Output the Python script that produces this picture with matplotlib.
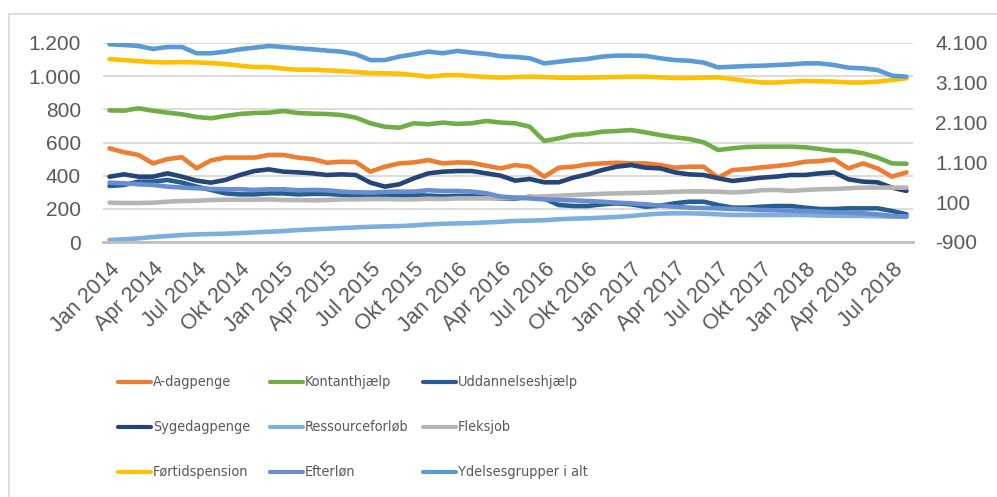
import matplotlib
matplotlib.use("Agg")
import matplotlib.pyplot as plt
from matplotlib.patches import Rectangle
from matplotlib.lines import Line2D
from matplotlib.ticker import FuncFormatter
import numpy as np

# monthly, Jan 2014 - Aug 2018
months = ["Jan", "Feb", "Mar", "Apr", "Maj", "Jun", "Jul", "Aug", "Sep", "Okt", "Nov", "Dec"]
periods = [f"{months[m]} {y}" for y in range(2014, 2019) for m in range(12)][:56]

a_dagpenge = [565, 541, 525, 474, 500, 511, 444, 492, 509, 509, 509, 525, 525, 509,
              500, 478, 484, 482, 424, 454, 474, 480, 494, 474, 480, 478, 460, 444,
              464, 454, 394, 448, 454, 468, 474, 478, 474, 474, 464, 448, 454, 454,
              388, 434, 440, 450, 458, 468, 484, 488, 498, 444, 474, 444, 394, 420]
kontanthjaelp = [794, 792, 806, 792, 780, 770, 754, 746, 760, 772, 778, 780, 790, 778,
                 774, 772, 766, 750, 716, 695, 689, 716, 710, 720, 712, 716, 730, 720,
                 716, 695, 609, 625, 645, 651, 665, 669, 675, 661, 645, 631, 621, 601,
                 555, 565, 573, 575, 575, 575, 571, 561, 549, 549, 535, 509, 474, 472]
uddannelseshjaelp = [338, 344, 364, 364, 374, 358, 334, 314, 293, 287, 287, 293, 293, 287,
                     290, 290, 285, 280, 278, 278, 280, 282, 280, 276, 278, 278, 270, 262,
                     262, 273, 262, 223, 217, 217, 227, 233, 227, 213, 219, 233, 243, 243,
                     223, 207, 207, 213, 217, 217, 207, 199, 199, 203, 203, 203, 187, 167]
sygedagpenge = [394, 408, 394, 394, 414, 394, 370, 358, 374, 404, 428, 438, 424, 420,
                414, 404, 408, 404, 358, 334, 348, 384, 414, 424, 428, 428, 414, 400,
                370, 380, 360, 360, 388, 408, 434, 454, 464, 448, 444, 420, 408, 404,
                384, 368, 378, 388, 394, 404, 404, 414, 420, 378, 364, 360, 328, 308]
ressourceforloeb = [12, 16, 22, 30, 36, 42, 46, 48, 50, 54, 58, 62, 66, 72,
                    76, 80, 84, 88, 92, 94, 96, 100, 106, 110, 112, 114, 118, 122,
                    127, 129, 131, 137, 141, 143, 147, 151, 157, 165, 171, 173, 173, 171,
                    167, 163, 163, 163, 163, 163, 163, 159, 159, 157, 157, 155, 153, 153]
fleksjob = [237, 235, 235, 237, 243, 247, 249, 253, 255, 255, 255, 257, 253, 253,
            251, 253, 257, 257, 259, 259, 257, 257, 261, 259, 263, 263, 263, 263,
            267, 271, 275, 279, 283, 287, 291, 293, 295, 297, 299, 303, 305, 305,
            303, 299, 303, 312, 314, 308, 314, 318, 320, 324, 328, 328, 328, 328]
foertidspension = [1103, 1097, 1091, 1085, 1083, 1085, 1083, 1079, 1073, 1063, 1055, 1055, 1045, 1039,
                   1039, 1035, 1031, 1025, 1019, 1017, 1015, 1007, 997, 1005, 1007, 1001, 995, 991,
                   995, 997, 995, 991, 991, 991, 993, 995, 997, 997, 993, 989, 989, 991,
                   993, 983, 971, 962, 962, 967, 971, 969, 967, 962, 962, 967, 977, 987]
efterloen = [358, 354, 348, 344, 334, 328, 324, 320, 318, 318, 314, 318, 318, 312,
             314, 312, 304, 300, 298, 302, 304, 304, 312, 308, 308, 304, 294, 274,
             267, 263, 257, 253, 251, 247, 243, 237, 233, 227, 219, 213, 207, 205,
             203, 199, 197, 193, 191, 189, 187, 183, 179, 177, 173, 167, 157, 153]
# secondary axis
ydelsesgrupper = [4067, 4050, 4025, 3950, 4000, 4000, 3842, 3842, 3883, 3942, 3983, 4025, 4000, 3967,
                  3942, 3908, 3883, 3817, 3671, 3671, 3758, 3817, 3883, 3842, 3900, 3858, 3825, 3767,
                  3750, 3717, 3588, 3629, 3671, 3700, 3758, 3783, 3783, 3775, 3717, 3671, 3654, 3608,
                  3488, 3504, 3521, 3529, 3546, 3563, 3588, 3588, 3546, 3479, 3463, 3421, 3279, 3254]

primary = [
    ("A-dagpenge", a_dagpenge, "#ED7D31"),
    ("Kontanthjælp", kontanthjaelp, "#70AD47"),
    ("Uddannelseshjælp", uddannelseshjaelp, "#255E91"),
    ("Sygedagpenge", sygedagpenge, "#264478"),
    ("Ressourceforløb", ressourceforloeb, "#7CAFDD"),
    ("Fleksjob", fleksjob, "#B5B5B5"),
    ("Førtidspension", foertidspension, "#FFC000"),
    ("Efterløn", efterloen, "#698ED0"),
]
total_name, total_col = "Ydelsesgrupper i alt", "#5B9BD5"

plt.rcParams["font.family"] = ["Liberation Sans", "DejaVu Sans"]
grey_txt = "#595959"
W, H = 997, 497

fig = plt.figure(figsize=(9.97, 4.97), dpi=100)
ax = fig.add_axes([103 / W, 1 - 242 / H, 810 / W, 199 / H])
ax2 = ax.twinx()

x = np.arange(len(periods))
for name, vals, col in primary:
    ax.plot(x, vals, color=col, lw=3.3, solid_capstyle="round", solid_joinstyle="round")
ax2.plot(x, ydelsesgrupper, color=total_col, lw=3.3, solid_capstyle="round", solid_joinstyle="round")

ax.set_xlim(-0.45, 55.45)
ax.set_ylim(0, 1200)
ax2.set_ylim(-900, 4100)
ax.set_yticks(np.arange(0, 1201, 200))
ax2.set_yticks(np.arange(-900, 4101, 1000))
dk = FuncFormatter(lambda v, p: f"{int(v):,}".replace(",", "."))
ax.yaxis.set_major_formatter(dk)
ax2.yaxis.set_major_formatter(dk)

ax.set_xticks(x[::3])
ax.set_xticklabels(periods[::3], rotation=45, ha="right", rotation_mode="anchor")

ax.grid(axis="y", color="#D9D9D9", lw=1.3)
ax.set_axisbelow(True)
for a in (ax, ax2):
    for s in a.spines.values():
        s.set_visible(False)
    a.tick_params(length=0, colors=grey_txt, labelsize=15)
ax.spines["bottom"].set_visible(True)
ax.spines["bottom"].set_color("#BFBFBF")
ax.spines["bottom"].set_linewidth(2.0)
ax.tick_params(axis="y", pad=16)
ax2.tick_params(axis="y", pad=16)
ax.tick_params(axis="x", pad=12, labelsize=15.5)

# legend laid out like Excel: fixed columns, row-major
entries = [(n, c) for n, _, c in primary] + [(total_name, total_col)]
col_x = [118, 270, 423]
row_y = [382, 427, 472]
for k, (name, col) in enumerate(entries):
    cx, ry = col_x[k % 3], row_y[k // 3]
    fig.add_artist(Line2D([cx / W, (cx + 33) / W], [1 - ry / H, 1 - ry / H],
                          transform=fig.transFigure, color=col, lw=3.0,
                          solid_capstyle="round"))
    fig.text((cx + 35) / W, 1 - ry / H, name, ha="left", va="center",
             fontsize=10.4, color=grey_txt, family="DejaVu Sans", fontstretch="condensed")

fig.patches.append(Rectangle((9 / W, -0.1), 1.1, 1.1 - 14 / H, transform=fig.transFigure,
                             fill=False, edgecolor="#D9D9D9", lw=1.2))

fig.savefig("out.png", dpi=100)
